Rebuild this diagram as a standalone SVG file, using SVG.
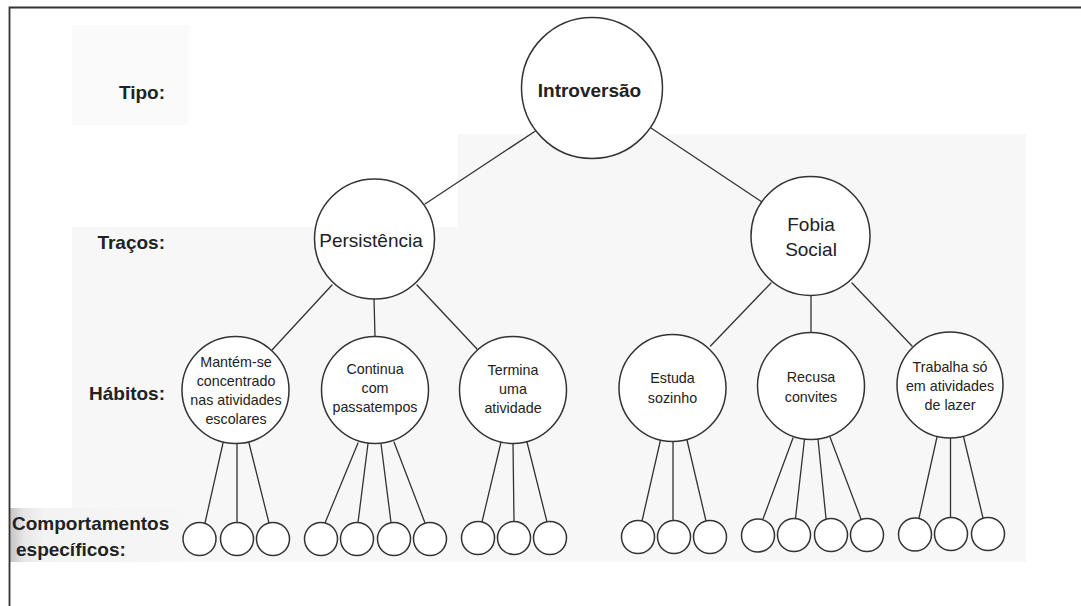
<svg xmlns="http://www.w3.org/2000/svg" width="1081" height="606" viewBox="0 0 1081 606">
  <defs>
    <style>
      .edge { stroke: #333; stroke-width: 1.3; fill: none; stroke-linecap: round; }
      .node circle { fill: #ffffff; stroke: #333; stroke-width: 1.5; }
      .leaf circle { fill: #ffffff; stroke: #333; stroke-width: 1.5; }
      .lbl { font-family: "Liberation Sans", Arial, sans-serif; font-weight: bold; font-size: 19px; fill: #222; }
      .big { font-family: "Liberation Sans", Arial, sans-serif; font-size: 19px; fill: #222; text-anchor: middle; }
      .small { font-family: "Liberation Sans", Arial, sans-serif; font-size: 14.3px; fill: #222; text-anchor: middle; }
    </style>
    <linearGradient id="shade" x1="0" y1="0" x2="1" y2="0">
      <stop offset="0" stop-color="#c4c4c4"/>
      <stop offset="0.08" stop-color="#e6e6e6"/>
      <stop offset="0.2" stop-color="#f3f3f3"/>
      <stop offset="1" stop-color="#f6f6f6"/>
    </linearGradient>
  </defs>

  <!-- page -->
  <rect x="0" y="0" width="1081" height="606" fill="#ffffff"/>
  <g id="paper">
    <path d="M458,134 H1026 V562 H72 V227 H458 Z" fill="#f7f7f7"/>
    <rect x="72" y="25" width="117" height="100" fill="#fafafa"/>
    <rect x="10" y="508" width="172" height="54" fill="url(#shade)"/>
  </g>
  <path d="M9.5,606 V7.5 H1081" fill="none" stroke="#333" stroke-width="1.8"/>

  <!-- level labels -->
  <g id="labels">
    <text class="lbl" x="165" y="99" text-anchor="end">Tipo:</text>
    <text class="lbl" x="165" y="249" text-anchor="end">Traços:</text>
    <text class="lbl" x="165" y="400" text-anchor="end">Hábitos:</text>
    <text class="lbl" x="12" y="530">Comportamentos</text>
    <text class="lbl" x="16" y="556">específicos:</text>
  </g>

  <!-- connectors -->
  <g id="connectors">
    <line class="edge" x1="425" y1="204" x2="540" y2="128"/>
    <line class="edge" x1="651" y1="128" x2="762" y2="202"/>

    <line class="edge" x1="332" y1="285" x2="272" y2="350"/>
    <line class="edge" x1="374" y1="298" x2="375" y2="337"/>
    <line class="edge" x1="417" y1="285" x2="477" y2="349"/>

    <line class="edge" x1="771" y1="283" x2="710.5" y2="346"/>
    <line class="edge" x1="811" y1="295" x2="811" y2="333"/>
    <line class="edge" x1="852" y1="283" x2="912" y2="346"/>

    <line class="edge" x1="223" y1="443" x2="205" y2="523"/>
    <line class="edge" x1="237" y1="443.5" x2="237" y2="522.5"/>
    <line class="edge" x1="249" y1="443" x2="269" y2="523"/>

    <line class="edge" x1="358" y1="443" x2="325" y2="523"/>
    <line class="edge" x1="368" y1="443.5" x2="358" y2="522.5"/>
    <line class="edge" x1="381" y1="443.5" x2="391" y2="522.5"/>
    <line class="edge" x1="394" y1="442" x2="425" y2="523"/>

    <line class="edge" x1="501" y1="442" x2="482" y2="522"/>
    <line class="edge" x1="513" y1="443" x2="514" y2="521.5"/>
    <line class="edge" x1="527" y1="442" x2="547" y2="522"/>

    <line class="edge" x1="660.5" y1="440" x2="642" y2="521"/>
    <line class="edge" x1="673" y1="441.5" x2="673" y2="520.5"/>
    <line class="edge" x1="687" y1="440" x2="706" y2="521"/>

    <line class="edge" x1="793" y1="438" x2="763" y2="519"/>
    <line class="edge" x1="804.5" y1="439" x2="795.5" y2="518.5"/>
    <line class="edge" x1="818" y1="439" x2="826" y2="518.5"/>
    <line class="edge" x1="830" y1="437" x2="861" y2="519"/>

    <line class="edge" x1="937" y1="437" x2="919" y2="518"/>
    <line class="edge" x1="950.5" y1="438" x2="950.5" y2="517.5"/>
    <line class="edge" x1="963.6" y1="437" x2="983" y2="518"/>
  </g>

  <!-- type -->
  <g id="introversao" class="node">
    <circle cx="592" cy="88" r="70.5"/>
    <text class="big" x="589.5" y="97" font-weight="bold">Introversão</text>
  </g>

  <!-- traits -->
  <g id="persistencia" class="node">
    <circle cx="374.5" cy="239" r="60"/>
    <text class="big" x="371" y="246.5">Persistência</text>
  </g>
  <g id="fobia-social" class="node">
    <circle cx="810.5" cy="236" r="59.5"/>
    <text class="big" x="811" y="231">Fobia</text>
    <text class="big" x="811" y="256">Social</text>
  </g>

  <!-- habits -->
  <g id="mantem-se" class="node">
    <circle cx="235.5" cy="390" r="53.5"/>
    <text class="small" x="236" y="367">Mantém-se</text>
    <text class="small" x="236" y="386">concentrado</text>
    <text class="small" x="236" y="405">nas atividades</text>
    <text class="small" x="236" y="424">escolares</text>
  </g>
  <g id="continua" class="node">
    <circle cx="375" cy="390" r="53.5"/>
    <text class="small" x="375" y="374">Continua</text>
    <text class="small" x="375" y="393">com</text>
    <text class="small" x="375" y="412">passatempos</text>
  </g>
  <g id="termina" class="node">
    <circle cx="513" cy="390" r="53.5"/>
    <text class="small" x="513" y="375">Termina</text>
    <text class="small" x="513" y="394">uma</text>
    <text class="small" x="513" y="413">atividade</text>
  </g>
  <g id="estuda" class="node">
    <circle cx="672.5" cy="388" r="53.5"/>
    <text class="small" x="672.5" y="383">Estuda</text>
    <text class="small" x="672.5" y="403">sozinho</text>
  </g>
  <g id="recusa" class="node">
    <circle cx="811" cy="386" r="53.5"/>
    <text class="small" x="811" y="382">Recusa</text>
    <text class="small" x="811" y="402">convites</text>
  </g>
  <g id="trabalha" class="node">
    <circle cx="950" cy="385" r="53"/>
    <text class="small" x="950" y="372">Trabalha só</text>
    <text class="small" x="950" y="391">em atividades</text>
    <text class="small" x="950" y="410">de lazer</text>
  </g>

  <!-- specific behaviours -->
  <g id="mantem-b1" class="leaf"><circle cx="199.5" cy="539" r="16.5"/></g>
  <g id="mantem-b2" class="leaf"><circle cx="237" cy="539" r="16.5"/></g>
  <g id="mantem-b3" class="leaf"><circle cx="273" cy="539" r="16.5"/></g>

  <g id="continua-b1" class="leaf"><circle cx="321" cy="539" r="16.5"/></g>
  <g id="continua-b2" class="leaf"><circle cx="357" cy="539" r="16.5"/></g>
  <g id="continua-b3" class="leaf"><circle cx="394" cy="539" r="16.5"/></g>
  <g id="continua-b4" class="leaf"><circle cx="430" cy="539" r="16.5"/></g>

  <g id="termina-b1" class="leaf"><circle cx="478" cy="538" r="16.5"/></g>
  <g id="termina-b2" class="leaf"><circle cx="514" cy="538" r="16.5"/></g>
  <g id="termina-b3" class="leaf"><circle cx="550" cy="538" r="16.5"/></g>

  <g id="estuda-b1" class="leaf"><circle cx="638" cy="537" r="16.5"/></g>
  <g id="estuda-b2" class="leaf"><circle cx="674" cy="537" r="16.5"/></g>
  <g id="estuda-b3" class="leaf"><circle cx="710" cy="537" r="16.5"/></g>

  <g id="recusa-b1" class="leaf"><circle cx="758" cy="535.5" r="16.5"/></g>
  <g id="recusa-b2" class="leaf"><circle cx="794" cy="535" r="16.5"/></g>
  <g id="recusa-b3" class="leaf"><circle cx="831" cy="535" r="16.5"/></g>
  <g id="recusa-b4" class="leaf"><circle cx="867" cy="535" r="16.5"/></g>

  <g id="trabalha-b1" class="leaf"><circle cx="915" cy="534.5" r="16.5"/></g>
  <g id="trabalha-b2" class="leaf"><circle cx="951" cy="534" r="16.5"/></g>
  <g id="trabalha-b3" class="leaf"><circle cx="988" cy="534" r="16.5"/></g>
</svg>
